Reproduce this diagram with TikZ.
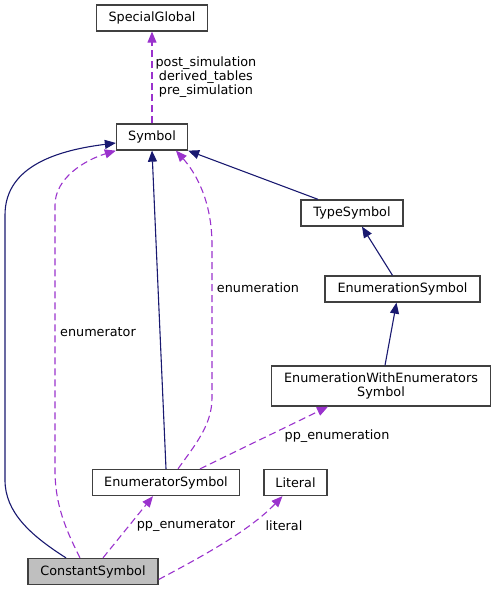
\documentclass[tikz,border=0pt]{standalone}
\usepackage{fontspec}
\setmainfont{DejaVu Sans}
\usepackage{tikz}
\usetikzlibrary{arrows.meta,positioning,calc}
\definecolor{navy2}{HTML}{191970}
\definecolor{purple2}{HTML}{9A32CD}
\definecolor{frame2}{HTML}{404040}
\definecolor{gray2}{HTML}{BFBFBF}

\begin{document}
\begin{tikzpicture}[x=1pt,y=-1pt,
          every node/.style={font=\fontsize{12.8}{15}\selectfont},
          box/.style={draw=frame2,line width=1.3pt,fill=white,
                      minimum height=26,inner sep=0pt,align=center},
          inh/.style={-{Triangle[length=11pt,width=9pt]},draw=navy2,line width=1.1pt},
          use/.style={-{Triangle[length=11pt,width=9pt]},draw=purple2,line width=1.1pt,
                      dash pattern=on 7pt off 4pt},
          lbl/.style={inner sep=1pt,align=center},
      ]
        \useasboundingbox (0,0) rectangle (496,591);

        \node[box,minimum width=111] (special) at (152,18) {SpecialGlobal};
        \node[box,minimum width=71] (symbol) at (152,137) {Symbol};
        \node[box,minimum width=102] (type) at (352,213) {TypeSymbol};
        \node[box,minimum width=155] (enumtype) at (402.5,289) {EnumerationSymbol};
        \node[box,minimum width=219,minimum height=40] (enumwith) at (381,386)
          {EnumerationWithEnumerators\\[-1pt]Symbol};
        \node[box,minimum width=147] (enumerator) at (166,482.5) {EnumeratorSymbol};
        \node[box,minimum width=63] (literal) at (295.5,482.5) {Literal};
        \node[box,fill=gray2,minimum width=130] (constant) at (93,571.5) {ConstantSymbol};

        % inheritance
        \draw[inh] ([xshift=-27]constant.north) .. controls (30,535) and (5,512) .. (5,480)
          -- (5,215) .. controls (5,165) and (60,150) .. ([yshift=-6]symbol.west);
        \draw[inh] (enumerator.north) -- (symbol.south);
        \draw[inh] ([xshift=-34]type.north) -- (symbol.south east);
        \draw[inh] ([xshift=-10]enumtype.north) -- ([xshift=10]type.south);
        \draw[inh] ([xshift=4]enumwith.north) -- ([xshift=-6]enumtype.south);

        % usage
        \draw[use] (symbol.north) -- (special.south)
          node[lbl,midway,right=2pt] {post\_simulation\\[-1pt]derived\_tables\\[-1pt]pre\_simulation};
        \draw[use] ([xshift=-13]constant.north) .. controls (66,530) and (55,505) .. (55,470)
          -- (55,205) .. controls (55,178) and (85,160) .. (symbol.south west);
        \node[lbl] (enumeratorlbl) at (98,332) {enumerator};
        \draw[use] ([xshift=12]enumerator.north) .. controls (195,445) and (212,425) .. (212,398)
          -- (212,245) .. controls (212,200) and (195,172) .. ([xshift=24]symbol.south);
        \node[lbl] (enumerationlbl) at (258,288) {enumeration};
        \draw[use] ([xshift=34]enumerator.north) -- ([xshift=-53]enumwith.south);
        \node[lbl] (ppenumerationlbl) at (337,436) {pp\_enumeration};
        \draw[use] ([xshift=10]constant.north) -- ([xshift=-13]enumerator.south);
        \node[lbl] (ppenumeratorlbl) at (186,526) {pp\_enumerator};
        \draw[use] ([yshift=-8]constant.east) .. controls (205,555) and (250,530) .. ([xshift=-13]literal.south);
        \node[lbl] (literallbl) at (284,526) {literal};
      \end{tikzpicture}
\end{document}
